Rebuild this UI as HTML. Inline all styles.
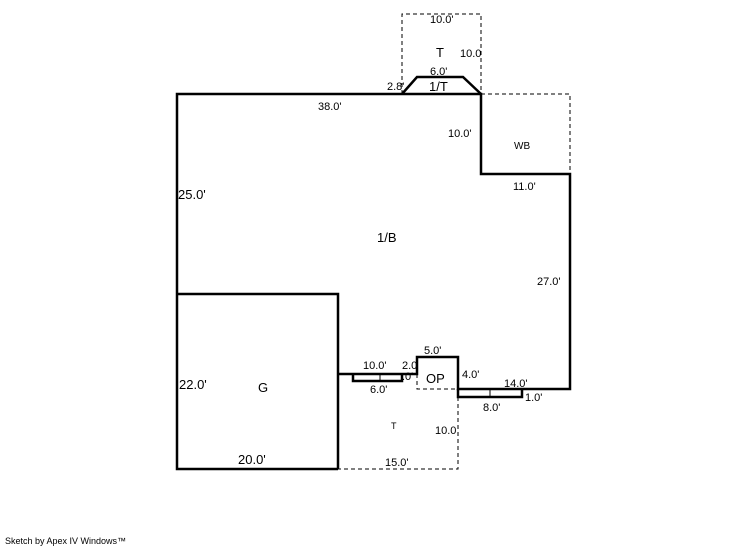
<!DOCTYPE html>
<html><head><style>body{margin:0;background:#fff}svg{display:block}text{font-family:"Liberation Sans",sans-serif;font-size:11px;fill:#000}</style></head><body>
<svg width="746" height="547" viewBox="0 0 746 547">
<g fill="none" stroke="#000" stroke-width="1" stroke-dasharray="4,3">
<polyline points="402,94 402,14 481,14 481,94"/>
<polyline points="481,94 570,94 570,174"/>
<polyline points="417,374 417,389 458,389"/>
<polyline points="458,397 458,469 338,469"/>
</g>
<g fill="none" stroke="#000" stroke-width="2.5">
<polyline points="338,469 177,469 177,94 402,94 481,94 481,174 570,174 570,389 458,389 458,357 417,357 417,374 338,374"/>
<polyline points="177,294 338,294 338,469"/>
<polyline points="458,389 458,397 522,397 522,389"/>
<polyline points="353,374 353,381 402,381 402,374"/>
<polyline points="402,94 417,77 463,77 481,94"/>
</g>
<g stroke="#000" stroke-width="1"><line x1="490" y1="390" x2="490" y2="396"/><line x1="380" y1="375" x2="380" y2="380"/></g>
<text x="430" y="23">10.0'</text>
<text x="436" y="57" style="font-size:13px">T</text>
<text x="460" y="57">10.0</text>
<text x="430" y="75">6.0'</text>
<text x="429" y="91" style="font-size:13px">1/T</text>
<text x="387" y="90">2.8'</text>
<text x="318" y="110">38.0'</text>
<text x="448" y="137">10.0'</text>
<text x="514" y="149" style="font-size:10px">WB</text>
<text x="513" y="190">11.0'</text>
<text x="178" y="199" style="font-size:13px">25.0'</text>
<text x="377" y="242" style="font-size:13px">1/B</text>
<text x="537" y="285">27.0'</text>
<text x="424" y="354">5.0'</text>
<text x="363" y="369">10.0'</text>
<text x="402" y="369">2.0</text>
<text x="402" y="380">.0'</text>
<text x="426" y="383" style="font-size:13px">OP</text>
<text x="462" y="378">4.0'</text>
<text x="504" y="387">14.0'</text>
<text x="370" y="393">6.0'</text>
<text x="179" y="389" style="font-size:13px">22.0'</text>
<text x="258" y="392" style="font-size:13px">G</text>
<text x="483" y="411">8.0'</text>
<text x="525" y="401">1.0'</text>
<text x="391" y="429" style="font-size:9px">T</text>
<text x="435" y="434">10.0</text>
<text x="238" y="464" style="font-size:13px">20.0'</text>
<text x="385" y="466">15.0'</text>
<text x="5" y="544" style="font-size:9px">Sketch by Apex IV Windows™</text>
</svg></body></html>
